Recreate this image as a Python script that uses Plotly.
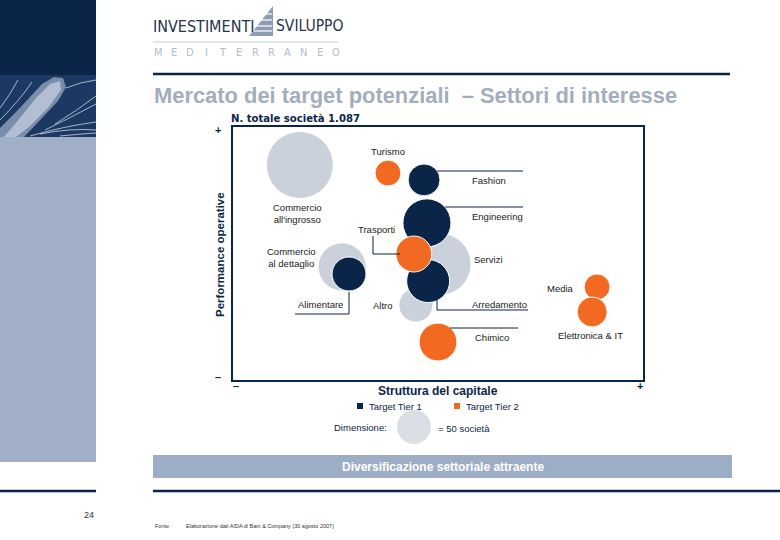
import plotly.graph_objects as go

# ---------------- data ----------------
sectors = ["Commercio all'ingrosso", "Servizi", "Commercio al dettaglio", "Altro",
           "Fashion", "Engineering", "Alimentare", "Arredamento",
           "Turismo", "Trasporti", "Chimico", "Media", "Elettronica & IT"]
tier = ["Altri", "Altri", "Altri", "Altri",
        "Tier 1", "Tier 1", "Tier 1", "Tier 1",
        "Tier 2", "Tier 2", "Tier 2", "Tier 2", "Tier 2"]
struttura_capitale = [16.3, 50.5, 26.6, 44.6, 46.6, 47.3, 28.3, 47.6, 37.8, 44.1, 50.0, 88.8, 87.6]
performance_operative = [85.0, 45.8, 44.7, 29.6, 79.1, 62.1, 41.9, 39.1, 81.8, 49.8, 15.0, 36.8, 26.9]
n_societa = [194, 166, 100, 50, 44, 100, 50, 80, 29, 56, 62, 29, 39]
ref_size = 50

W, H = 780, 540
NAVY = "#0b2548"
ORANGE = "#f26a21"
GRAY = "#cbd1db"
LIGHT = "#a1afc6"
TITLE_C = "#a3adbe"
FONT = "Liberation Sans"
COND = "DejaVu Sans Condensed, Liberation Sans"

def px(x):
    return x / W

def py(y):
    return 1 - y / H

def dx(p):
    return (p - 233) / 4.1

def dy(p):
    return (380 - p) / 2.53

sizeref = ref_size / 2 / 17 ** 2

fig = go.Figure()
colors = {"Altri": GRAY, "Tier 1": NAVY, "Tier 2": ORANGE}
for t in ["Altri", "Tier 1", "Tier 2"]:
    idx = [i for i, v in enumerate(tier) if v == t]
    fig.add_trace(go.Scatter(
        x=[struttura_capitale[i] for i in idx],
        y=[performance_operative[i] for i in idx],
        text=[sectors[i] for i in idx],
        mode="markers",
        marker=dict(size=[n_societa[i] for i in idx], sizemode="area", sizeref=sizeref,
                    color=colors[t], opacity=1, line=dict(color="white", width=1)),
        showlegend=False, hoverinfo="text", cliponaxis=False))

# reference bubble (= 50 società), drawn on its own small invisible axes
fig.add_trace(go.Scatter(x=[0.5], y=[0.5], mode="markers", xaxis="x2", yaxis="y2",
                         marker=dict(size=[ref_size], sizemode="area", sizeref=sizeref,
                                     color=GRAY, line=dict(width=0)),
                         showlegend=False, hoverinfo="skip", cliponaxis=False))

shapes = []
# left panel
shapes.append(dict(type="rect", xref="paper", yref="paper", x0=0, x1=px(96), y0=py(0), y1=py(75),
                   fillcolor=NAVY, line_width=0, layer="below"))
shapes.append(dict(type="rect", xref="paper", yref="paper", x0=0, x1=px(96), y0=py(75), y1=py(137),
                   fillcolor="#1b3962", line_width=0, layer="below"))
shapes.append(dict(type="rect", xref="paper", yref="paper", x0=0, x1=px(96), y0=py(137), y1=py(462),
                   fillcolor=LIGHT, line_width=0, layer="below"))
# fibre bundle in the image strip
bundle = [(0, 137), (0, 128), (15, 113), (30, 97), (42, 84), (54, 77), (63, 78), (66, 87),
          (58, 101), (42, 118), (24, 137)]
path = "M " + " L ".join(f"{px(a)},{py(b)}" for a, b in bundle) + " Z"
shapes.append(dict(type="path", xref="paper", yref="paper", path=path,
                   fillcolor="rgba(200,212,232,0.55)", line_width=0))
inner = [(4, 137), (20, 118), (36, 98), (50, 84), (60, 81), (61, 90), (48, 108), (30, 126), (16, 137)]
path = "M " + " L ".join(f"{px(a)},{py(b)}" for a, b in inner) + " Z"
shapes.append(dict(type="path", xref="paper", yref="paper", path=path,
                   fillcolor="rgba(235,240,250,0.5)", line_width=0))
streaks = [
    [(0, 120), (20, 100), (32, 82)],
    [(0, 108), (10, 95), (18, 80)],
    [(30, 136), (65, 126), (96, 122)],
    [(40, 134), (70, 128), (96, 130)],
    [(45, 130), (70, 118), (96, 104)],
    [(55, 124), (75, 112), (96, 96)],
    [(60, 136), (80, 134), (96, 133)],
    [(66, 88), (80, 82), (96, 80)],
]
for pts in streaks:
    (x0, y0), (xc, yc), (x1, y1) = pts
    path = f"M {px(x0)},{py(y0)} Q {px(xc)},{py(yc)} {px(x1)},{py(y1)}"
    shapes.append(dict(type="path", xref="paper", yref="paper", path=path,
                       line=dict(color="rgba(225,235,250,0.7)", width=1)))
shapes.append(dict(type="line", xref="paper", yref="paper", x0=0, x1=px(96), y0=py(491), y1=py(491),
                   line=dict(color=NAVY, width=2.5)))
# right header/footer lines
shapes.append(dict(type="line", xref="paper", yref="paper", x0=px(153), x1=px(730), y0=py(74), y1=py(74),
                   line=dict(color=NAVY, width=2.5)))
shapes.append(dict(type="line", xref="paper", yref="paper", x0=px(153), x1=1, y0=py(491), y1=py(491),
                   line=dict(color=NAVY, width=2.5)))
# logo line & sail
shapes.append(dict(type="line", xref="paper", yref="paper", x0=px(153), x1=px(338), y0=py(42), y1=py(42),
                   line=dict(color="#b8c0cc", width=0.8)))
shapes.append(dict(type="path", xref="paper", yref="paper",
                   path=f"M {px(249)},{py(36)} L {px(273)},{py(6)} L {px(273)},{py(36)} Z",
                   fillcolor="#8f9db4", line_width=0))
for yy in [14, 20, 26, 31]:
    shapes.append(dict(type="line", xref="paper", yref="paper", x0=px(247), x1=px(272), y0=py(yy), y1=py(yy),
                       line=dict(color="white", width=1.2)))
# banner
shapes.append(dict(type="rect", xref="paper", yref="paper", x0=px(153), x1=px(732), y0=py(455), y1=py(478),
                   fillcolor="#9eadc6", line_width=0, layer="below"))
# legend squares
shapes.append(dict(type="rect", xref="paper", yref="paper", x0=px(357), x1=px(363), y0=py(403), y1=py(409),
                   fillcolor=NAVY, line_width=0))
shapes.append(dict(type="rect", xref="paper", yref="paper", x0=px(454), x1=px(460), y0=py(403), y1=py(409),
                   fillcolor=ORANGE, line_width=0))

# leader lines (data coords)
leaders = [
    [(437, 171), (523, 171)],
    [(445, 207), (523, 207)],
    [(437, 295), (437, 310), (528, 310)],
    [(450, 328), (518, 328)],
    [(373, 236), (373, 254), (400, 254)],
    [(295, 314), (349, 314), (349, 292)],
]
for pts in leaders:
    path = "M " + " L ".join(f"{dx(a)},{dy(b)}" for a, b in pts)
    shapes.append(dict(type="path", xref="x", yref="y", path=path, line=dict(color=NAVY, width=1)))

annotations = []

def ann(text, x, y, size=10, color=NAVY, xanchor="left", bold=False, xref="paper", yref="paper",
        family=FONT, textangle=0, align="left"):
    if bold:
        text = f"<b>{text}</b>"
    annotations.append(dict(text=text, x=x, y=y, xref=xref, yref=yref, showarrow=False,
                            xanchor=xanchor, yanchor="middle", align=align, textangle=textangle,
                            font=dict(size=size, color=color, family=family)))

# logo
ann("INVESTIMENTI", px(151), py(26), size=16, color="#26324e", family=COND)
ann("SVILUPPO", px(274), py(26), size=15.5, color="#26324e", family=COND)
for i, ch in enumerate("MEDITERRANEO"):
    ann(ch, px(158 + i * 16.2), py(52), size=11, color="#b4bcc8", xanchor="center", family=COND)

ann("Mercato dei target potenziali  – Settori di interesse", px(152), py(95), size=21.9,
    color=TITLE_C, bold=True)
ann("N. totale società 1.087", px(229), py(119), size=11.2, bold=True, family=COND)
ann("Performance operative", px(220), py(255), size=11.5, bold=True, xanchor="center", textangle=-90)
ann("+", px(218), py(130), size=11, bold=True, xanchor="center")
ann("–", px(218), py(377), size=11, bold=True, xanchor="center")
ann("–", px(236), py(386), size=11, bold=True, xanchor="center")
ann("+", px(640), py(386), size=11, bold=True, xanchor="center")
ann("Struttura del capitale", px(438), py(391), size=12, bold=True, xanchor="center")
ann("Target Tier 1", px(367), py(406), size=9.5)
ann("Target Tier 2", px(464), py(406), size=9.5)
ann("Dimensione:", px(332), py(427), size=9.5)
ann("= 50 società", px(436), py(428), size=9.5)
ann("Diversificazione settoriale attraente", px(443), py(467), size=12, color="white",
    bold=True, xanchor="center")
ann("24", px(96), py(515), size=9, color="#333333", xanchor="right")
ann("Fonte", px(153), py(526), size=5.5, color="#333333")
ann("Elaborazione dati AIDA di Bain & Company (30 agosto 2007)", px(184), py(526), size=5.5,
    color="#333333")

# bubble labels (data coords)
labels = [
    ("Turismo", 388, 151, "center"),
    ("Fashion", 470, 180, "left"),
    ("Engineering", 470, 216, "left"),
    ("Servizi", 472, 259, "left"),
    ("Arredamento", 470, 304, "left"),
    ("Chimico", 473, 337, "left"),
    ("Media", 576, 288, "right"),
    ("Elettronica & IT", 590, 335, "center"),
    ("Trasporti", 376, 229, "center"),
    ("Commercio<br>all'ingrosso", 297, 213, "center"),
    ("Commercio<br>al dettaglio", 291, 257, "center"),
    ("Alimentare", 296, 304, "left"),
    ("Altro", 371, 305, "left"),
]
for text, lx, ly, anc in labels:
    ann(text, dx(lx), dy(ly), size=9.5, color="#1a1a1a", xanchor=anc, xref="x", yref="y",
        align="center")

hidden = dict(showgrid=False, zeroline=False, showticklabels=False, ticks="", showline=False,
              fixedrange=True, range=[0, 1])
fig.update_layout(
    width=W, height=H, margin=dict(l=0, r=0, t=0, b=0),
    paper_bgcolor="white", plot_bgcolor="white",
    shapes=shapes, annotations=annotations, showlegend=False,
    xaxis=dict(domain=[px(233), px(643)], range=[0, 100], showgrid=False, zeroline=False,
               showticklabels=False, ticks="", showline=True, mirror=True, linecolor=NAVY,
               linewidth=1.5, fixedrange=True),
    yaxis=dict(domain=[py(380), py(127)], range=[0, 100], showgrid=False, zeroline=False,
               showticklabels=False, ticks="", showline=True, mirror=True, linecolor=NAVY,
               linewidth=1.5, fixedrange=True),
    xaxis2=dict(domain=[px(400), px(428)], anchor="y2", **hidden),
    yaxis2=dict(domain=[py(441), py(413)], anchor="x2", **hidden),
)

fig.write_html("out.html", config={"displayModeBar": False},
               post_script="document.body.style.margin='0px';")
